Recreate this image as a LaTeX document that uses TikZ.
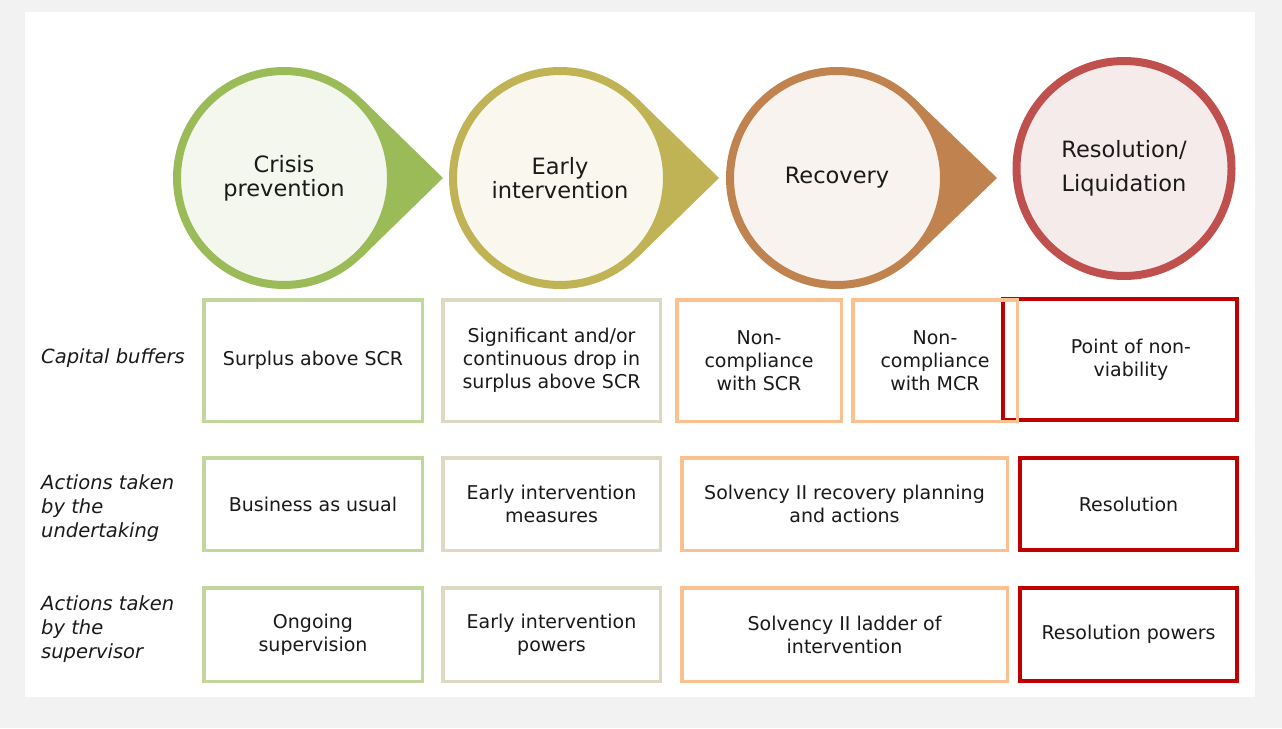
\documentclass[tikz,border=0pt]{standalone}
\usepackage{fontspec}
\setmainfont{DejaVu Sans}
\usepackage{tikz}
\usetikzlibrary{positioning, calc}
\definecolor{cmBack}{HTML}{F2F2F2}
\definecolor{cmText}{HTML}{1A1A1A}
\definecolor{cmGreen}{HTML}{9BBB59}
\definecolor{cmGreenFill}{HTML}{F3F7EE}
\definecolor{cmOlive}{HTML}{BFB356}
\definecolor{cmOliveFill}{HTML}{F9F7EE}
\definecolor{cmBrown}{HTML}{C0834F}
\definecolor{cmBrownFill}{HTML}{F8F3EE}
\definecolor{cmRed}{HTML}{C0504D}
\definecolor{cmRedFill}{HTML}{F6EBEB}
\definecolor{cmLineGreen}{HTML}{C3D69B}
\definecolor{cmLineBeige}{HTML}{DDD9C3}
\definecolor{cmLineOrange}{HTML}{FAC090}
\definecolor{cmLineRed}{HTML}{C00000}

\tikzset{
  phase/.style={circle, line width=8pt, inner sep=0pt, minimum size=214pt,
    align=center, text=cmText, font=\fontsize{22.5pt}{24pt}\selectfont},
  cell/.style={draw, line width=3.5pt, inner sep=0pt, align=center,
    text=cmText, font=\fontsize{19pt}{23pt}\selectfont},
  redcell/.style={cell, draw=cmLineRed, line width=4pt},
  rowlabel/.style={anchor=west, align=left, inner sep=0pt,
    text=cmText, font=\fontsize{19.5pt}{24pt}\selectfont\itshape}
}

\begin{document}
\begin{tikzpicture}[x=1pt, y=-1pt]
\fill[cmBack] (0,0) rectangle (1282,728);
\fill[white] (25,12) rectangle (1255,697);
\useasboundingbox (0,0) rectangle (1282,728);

% phase circles with pointers
\coordinate (crisisC) at (284,178);
\coordinate (crisisTip) at (443,178);
\fill[cmGreen] (crisisTip) -- ($(crisisC)+(45.7:111)$) -- ($(crisisC)+(-45.7:111)$) -- cycle;
\node[phase, draw=cmGreen, fill=cmGreenFill] (crisis) at (crisisC) {Crisis\\prevention};

\coordinate (earlyC) at (560,178);
\coordinate (earlyTip) at (719,178);
\fill[cmOlive] (earlyTip) -- ($(earlyC)+(45.7:111)$) -- ($(earlyC)+(-45.7:111)$) -- cycle;
\node[phase, draw=cmOlive, fill=cmOliveFill] (early) at (earlyC) {Early\\intervention};

\coordinate (recoveryC) at (837,178);
\coordinate (recoveryTip) at (997,178);
\fill[cmBrown] (recoveryTip) -- ($(recoveryC)+(46:111)$) -- ($(recoveryC)+(-46:111)$) -- cycle;
\node[phase, draw=cmBrown, fill=cmBrownFill] (recovery) at (recoveryC) {Recovery};

\node[phase, draw=cmRed, fill=cmRedFill, minimum size=215pt,
  font=\fontsize{22.5pt}{34pt}\selectfont] (resolution) at (1124,168.5) {Resolution/\\Liquidation};

% row labels
\node[rowlabel] (capLabel) at (41,358) {Capital buffers};
\node[rowlabel] (undLabel) at (41,508) {Actions taken\\by the\\undertaking};
\node[rowlabel] (supLabel) at (41,629) {Actions taken\\by the\\supervisor};

% capital buffers
\node[redcell, minimum width=234pt, minimum height=121pt] (pnv) at (1120,359.5) {};
\node[text=cmText, align=center, font=\fontsize{19pt}{23pt}\selectfont] (pnvText) at (1131,360) {Point of non-\\viability};
\node[cell, draw=cmLineGreen, minimum width=218.5pt, minimum height=121.5pt] (surplus) at (313,360.5) {Surplus above SCR};
\node[cell, draw=cmLineBeige, minimum width=217.5pt, minimum height=121.5pt] (drop) at (551.5,360.5) {Significant and/or\\continuous drop in\\surplus above SCR};
\node[cell, draw=cmLineOrange, minimum width=164.5pt, minimum height=121.5pt] (nonSCR) at (759,360.5) {Non-\\compliance\\with SCR};
\node[cell, draw=cmLineOrange, minimum width=164.5pt, minimum height=121.5pt] (nonMCR) at (935,360.5) {Non-\\compliance\\with MCR};

% actions taken by the undertaking
\node[cell, draw=cmLineGreen, minimum width=218.5pt, minimum height=92.5pt] (usual) at (313,504) {Business as usual};
\node[cell, draw=cmLineBeige, minimum width=217.5pt, minimum height=92.5pt] (measures) at (551.5,504) {Early intervention\\measures};
\node[cell, draw=cmLineOrange, minimum width=325.5pt, minimum height=92.5pt] (planning) at (844.5,504) {Solvency II recovery planning\\and actions};
\node[redcell, minimum width=217pt, minimum height=92pt] (resol) at (1128.5,504) {Resolution};

% actions taken by the supervisor
\node[cell, draw=cmLineGreen, minimum width=218.5pt, minimum height=93.5pt] (ongoing) at (313,634.5) {Ongoing\\supervision};
\node[cell, draw=cmLineBeige, minimum width=217.5pt, minimum height=93.5pt] (powers) at (551.5,634.5) {Early intervention\\powers};
\node[cell, draw=cmLineOrange, minimum width=325.5pt, minimum height=93.5pt] (ladder) at (844.5,634.5) {Solvency II ladder of\\intervention};
\node[redcell, minimum width=217pt, minimum height=93pt] (resPowers) at (1128.5,634.5) {Resolution powers};
\end{tikzpicture}
\end{document}
